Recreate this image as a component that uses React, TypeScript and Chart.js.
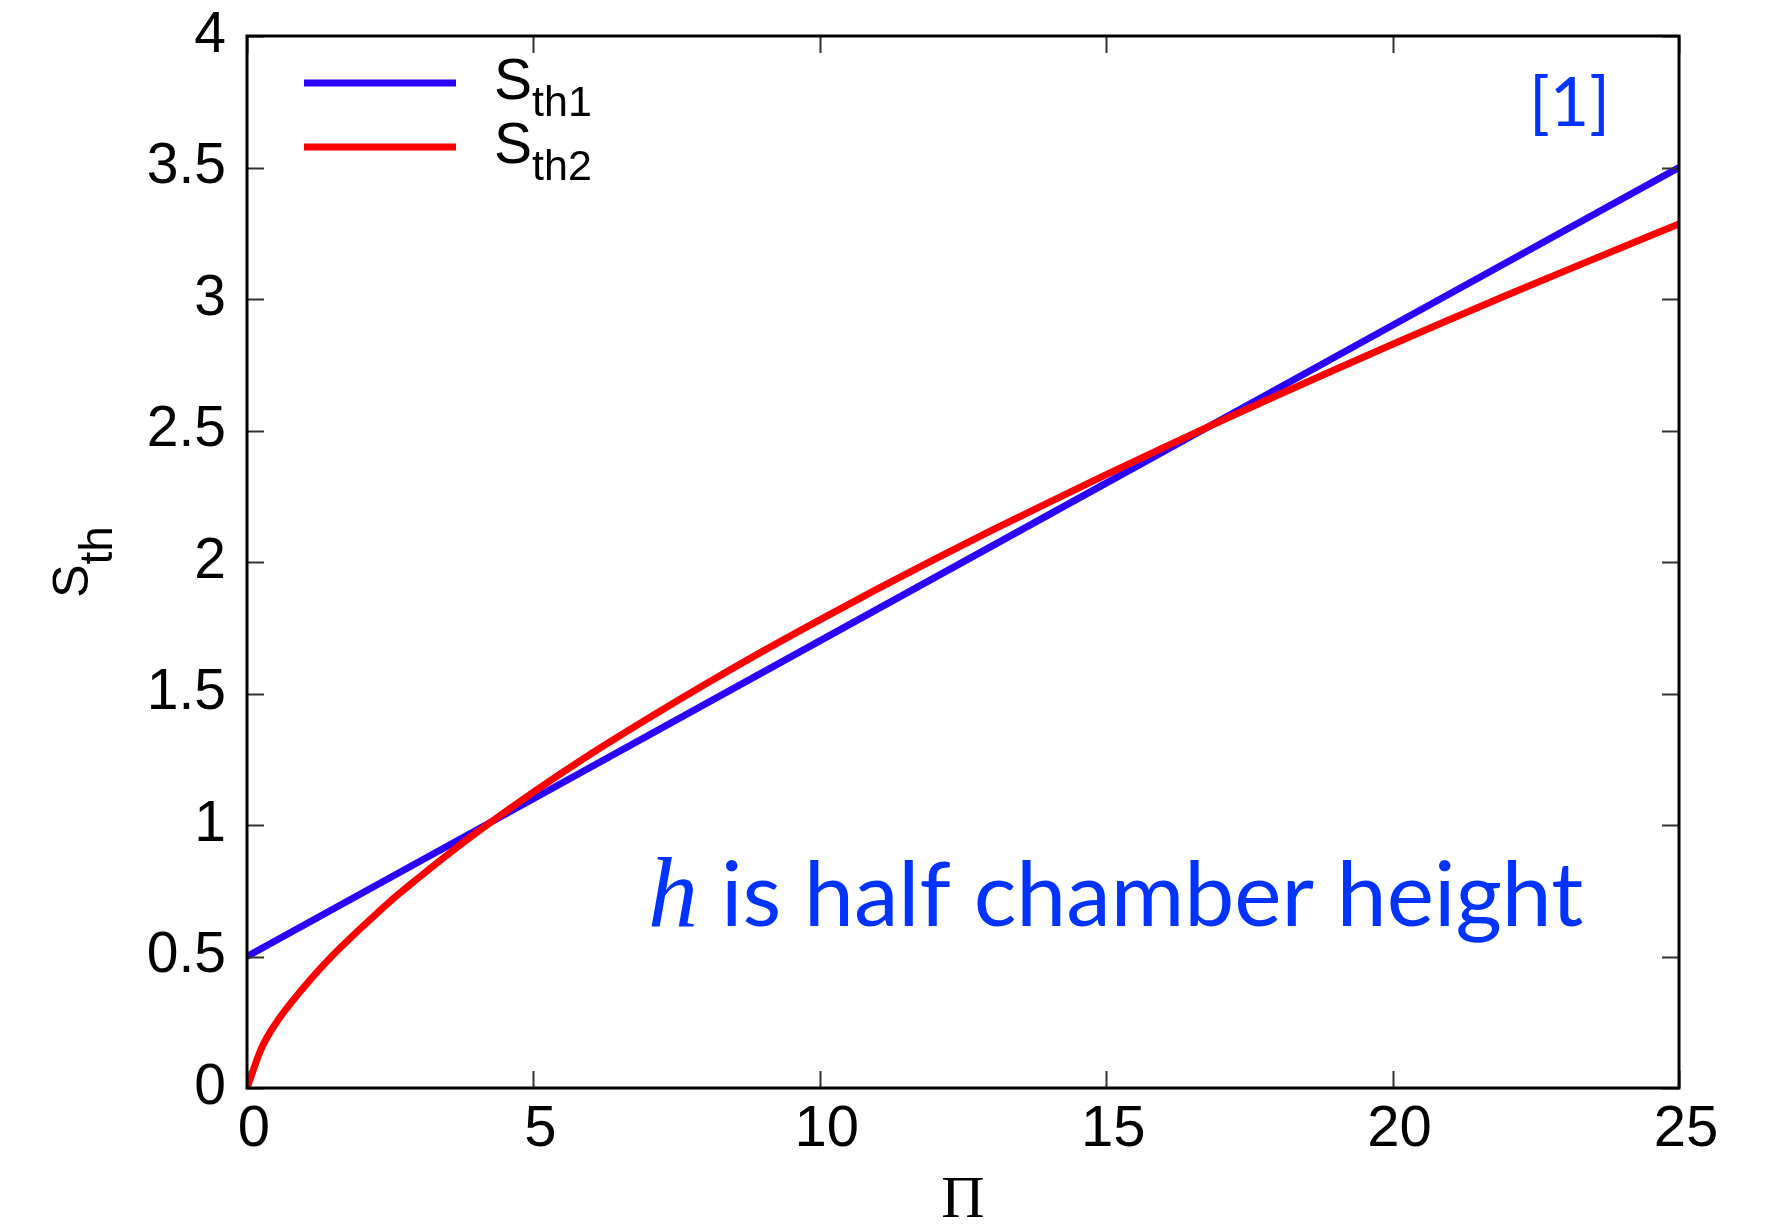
import { useEffect, useRef } from "react";
import { Chart, registerables } from "chart.js";

Chart.register(...registerables);

// Π values and threshold curves
const PI_STH1 = [0, 5, 10, 15, 20, 25];
const STH1 = [0.5, 1.1, 1.7, 2.3, 2.9, 3.5];

const PI_STH2 = [0, 0.25, 0.5, 1, 1.5, 2, 2.5, 3, 3.5, 4, 5, 6, 7, 8, 9, 10, 11, 12, 13, 14, 15, 16, 17, 18, 19, 20, 21, 22, 23, 24, 25];
const STH2 = [0, 0.15, 0.245, 0.385, 0.505, 0.61, 0.71, 0.8, 0.887, 0.97, 1.125, 1.27, 1.405, 1.535, 1.66, 1.78, 1.897, 2.01, 2.12, 2.227, 2.332, 2.435, 2.536, 2.635, 2.732, 2.828, 2.922, 3.015, 3.106, 3.196, 3.285];

const X_TICKS = [0, 5, 10, 15, 20, 25];
const Y_TICKS = [0, 0.5, 1, 1.5, 2, 2.5, 3, 3.5, 4];

const SERIES = [
  { base: "S", sub: "th1", color: "#2a00ff" },
  { base: "S", sub: "th2", color: "#ff0000" },
];

const AXIS_FONT = "'Liberation Sans', Arial, Helvetica, sans-serif";
const NOTE_FONT = "Lato, 'Open Sans', sans-serif";
const NOTE_COLOR = "#0033ff";

const W = 1767;
const H = 1225;
const AREA = { left: 247, top: 36, right: 1679, bottom: 1088 };
const TICK_LEN = 17;

function drawSubscripted(
  ctx: CanvasRenderingContext2D,
  x: number,
  y: number,
  base: string,
  sub: string,
  baseSize: number,
  subSize: number,
  subShift: number
) {
  ctx.font = `${baseSize}px ${AXIS_FONT}`;
  ctx.fillText(base, x, y);
  const bw = ctx.measureText(base).width;
  ctx.font = `${subSize}px ${AXIS_FONT}`;
  ctx.fillText(sub, x + bw, y + subShift);
}

const decorPlugin = {
  id: "decor",
  afterDraw(chart: any) {
    const { ctx, chartArea: a, scales } = chart;
    const xs = scales.x;
    const ys = scales.y;
    ctx.save();

    // inward tick marks on all four sides
    ctx.strokeStyle = "#333";
    ctx.lineWidth = 2;
    ctx.beginPath();
    xs.ticks.forEach((t: any) => {
      const px = Math.round(xs.getPixelForValue(t.value)) + 0.5;
      ctx.moveTo(px, a.bottom);
      ctx.lineTo(px, a.bottom - TICK_LEN);
      ctx.moveTo(px, a.top);
      ctx.lineTo(px, a.top + TICK_LEN);
    });
    ys.ticks.forEach((t: any) => {
      const py = Math.round(ys.getPixelForValue(t.value)) + 0.5;
      ctx.moveTo(a.left, py);
      ctx.lineTo(a.left + TICK_LEN, py);
      ctx.moveTo(a.right, py);
      ctx.lineTo(a.right - TICK_LEN, py);
    });
    ctx.stroke();

    // plot frame
    ctx.strokeStyle = "#000";
    ctx.lineWidth = 3;
    ctx.strokeRect(a.left, a.top, a.right - a.left, a.bottom - a.top);

    // legend
    ctx.fillStyle = "#000";
    ctx.textAlign = "left";
    ctx.textBaseline = "alphabetic";
    SERIES.forEach((s, i) => {
      const ly = a.top + 47 + i * 64;
      ctx.strokeStyle = s.color;
      ctx.lineWidth = 7;
      ctx.beginPath();
      ctx.moveTo(a.left + 57, ly);
      ctx.lineTo(a.left + 209, ly);
      ctx.stroke();
      drawSubscripted(ctx, a.left + 247, ly + 16, s.base, s.sub, 57, 43, 17);
    });

    // y-axis title, rotated
    ctx.save();
    ctx.translate(88, (a.top + a.bottom) / 2);
    ctx.rotate(-Math.PI / 2);
    ctx.font = `50px ${AXIS_FONT}`;
    const sW = ctx.measureText("S").width;
    ctx.font = `46px ${AXIS_FONT}`;
    const subW = ctx.measureText("th").width;
    drawSubscripted(ctx, -(sW + subW) / 2, 0, "S", "th", 50, 46, 24);
    ctx.restore();

    // x-axis title
    ctx.font = `60px 'Liberation Serif', 'DejaVu Serif', serif`;
    ctx.textAlign = "center";
    ctx.fillText("Π", (a.left + a.right) / 2, 1217);

    // notes
    ctx.fillStyle = NOTE_COLOR;
    ctx.textAlign = "left";
    ctx.font = `68px ${NOTE_FONT}`;
    ctx.fillText("[1]", 1529, 126);

    ctx.font = `italic 100px 'Liberation Serif', 'DejaVu Serif', serif`;
    ctx.fillText("h", 648, 926);
    const phrase = "is half chamber height";
    ctx.font = `96px ${NOTE_FONT}`;
    const pw = ctx.measureText(phrase).width;
    const size = (96 * 862) / pw;
    ctx.font = `${size.toFixed(1)}px ${NOTE_FONT}`;
    ctx.fillText(phrase, 721, 926);

    ctx.restore();
  },
};

export default function App() {
  const ref = useRef<HTMLCanvasElement | null>(null);

  useEffect(() => {
    if (!ref.current) return;
    const chart = new Chart(ref.current, {
      type: "line",
      data: {
        datasets: [
          {
            label: "Sth1",
            data: PI_STH1.map((x, i) => ({ x, y: STH1[i] })),
            borderColor: SERIES[0].color,
            borderWidth: 7,
            pointRadius: 0,
            tension: 0,
            order: 1,
          },
          {
            label: "Sth2",
            data: PI_STH2.map((x, i) => ({ x, y: STH2[i] })),
            borderColor: SERIES[1].color,
            borderWidth: 7,
            pointRadius: 0,
            cubicInterpolationMode: "monotone",
            order: 0,
          },
        ],
      },
      options: {
        responsive: false,
        animation: false,
        layout: {
          padding: { top: AREA.top, right: W - AREA.right, left: 0, bottom: 0 },
        },
        plugins: {
          legend: { display: false },
          tooltip: { enabled: false },
        },
        scales: {
          x: {
            type: "linear",
            min: 0,
            max: 25,
            grid: { display: false, drawTicks: false },
            border: { display: false },
            afterBuildTicks: (s: any) => {
              s.ticks = X_TICKS.map((v) => ({ value: v }));
            },
            afterFit: (s: any) => {
              s.height = H - AREA.bottom;
              s.paddingLeft = 0;
              s.paddingRight = 0;
            },
            ticks: {
              padding: 7,
              labelOffset: 7,
              color: "#000",
              maxRotation: 0,
              font: { family: AXIS_FONT, size: 58 },
              callback: (v: any) => String(v),
            },
          },
          y: {
            type: "linear",
            min: 0,
            max: 4,
            grid: { display: false, drawTicks: false },
            border: { display: false },
            afterBuildTicks: (s: any) => {
              s.ticks = Y_TICKS.map((v) => ({ value: v }));
            },
            afterFit: (s: any) => {
              s.width = AREA.left;
              s.paddingTop = 0;
              s.paddingBottom = 0;
            },
            ticks: {
              padding: 21,
              color: "#000",
              font: { family: AXIS_FONT, size: 57 },
              callback: (v: any) => String(v),
            },
          },
        },
      },
      plugins: [decorPlugin],
    });
    return () => chart.destroy();
  }, []);

  return (
    <div style={{ position: "fixed", left: 0, top: 0, width: W, height: H, background: "#fff" }}>
      <canvas ref={ref} width={W} height={H} />
    </div>
  );
}
